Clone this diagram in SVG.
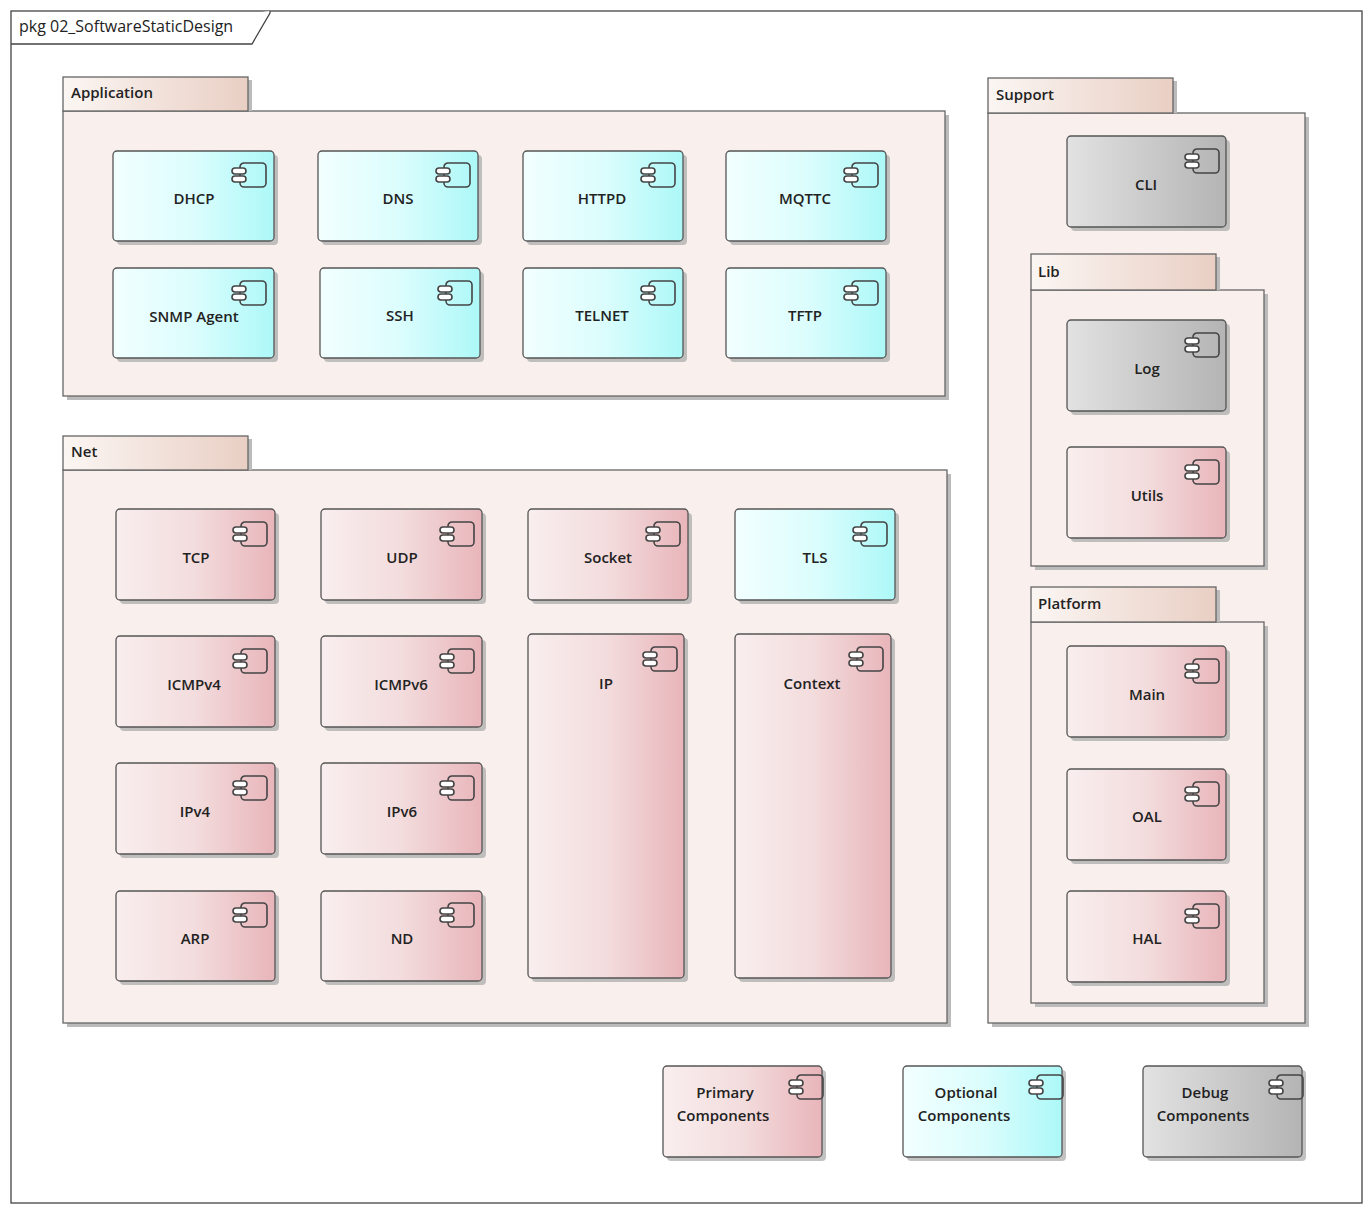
<svg xmlns="http://www.w3.org/2000/svg" xmlns:xlink="http://www.w3.org/1999/xlink" width="1372" height="1213" viewBox="0 0 1372 1213">
<defs>
<linearGradient id="gp" x1="0" x2="1" y1="0" y2="0"><stop offset="0" stop-color="#f9eeee"/><stop offset="0.5" stop-color="#f3dcdd"/><stop offset="1" stop-color="#e8b5ba"/></linearGradient>
<linearGradient id="gc" x1="0" x2="1" y1="0" y2="0"><stop offset="0" stop-color="#f2ffff"/><stop offset="0.5" stop-color="#dcfdfd"/><stop offset="1" stop-color="#adf8f8"/></linearGradient>
<linearGradient id="gg" x1="0" x2="1" y1="0" y2="0"><stop offset="0" stop-color="#e2e2e2"/><stop offset="1" stop-color="#b4b4b4"/></linearGradient>
<linearGradient id="gt" x1="0" x2="1" y1="0" y2="0"><stop offset="0" stop-color="#fbf6f3"/><stop offset="1" stop-color="#e9cfc4"/></linearGradient>
<g id="ic" fill="none" stroke="#444" stroke-width="1.6"><rect x="8" y="0" width="26" height="24" rx="4"/><rect x="0" y="5" width="14" height="6" rx="3" fill="#fff"/><rect x="0" y="13" width="14" height="6" rx="3" fill="#fff"/></g>
</defs>
<style>
text{font-family:"Open Sans","Noto Sans","Liberation Sans",sans-serif;font-size:15px;font-weight:600;fill:#222}
.t{text-anchor:middle}
.c{stroke:#555;stroke-width:1.3}
.sh{fill:#a8a8a8;opacity:.7}
.pb{fill:#f9f0ed;stroke:#666;stroke-width:1.3}
.pt{fill:url(#gt);stroke:#666;stroke-width:1.3}
.ps{fill:#bbb}
</style>
<rect width="1372" height="1213" fill="#fff"/>
<rect x="11" y="11" width="1351" height="1192" fill="none" stroke="#444" stroke-width="1.3"/>
<path d="M11 44 H252 L270 13 V11" fill="#fff" stroke="#444" stroke-width="1.3"/>
<text x="19" y="32" style="font-weight:400;font-size:16px">pkg 02_SoftwareStaticDesign</text>

<g id="pkg-application">
<rect x="67" y="115" width="882" height="285" class="ps"/><rect x="252" y="81" width="0" height="30" class="ps"/>
<rect x="63" y="111" width="882" height="285" class="pb"/>
<rect x="248" y="80" width="4" height="31" class="ps"/>
<rect x="63" y="77" width="185" height="34" class="pt"/>
<text x="71" y="98">Application</text>
</g>
<g id="pkg-net">
<rect x="67" y="474" width="884" height="553" class="ps"/>
<rect x="63" y="470" width="884" height="553" class="pb"/>
<rect x="248" y="439" width="4" height="31" class="ps"/>
<rect x="63" y="436" width="185" height="34" class="pt"/>
<text x="71" y="457">Net</text>
</g>
<g id="pkg-support">
<rect x="992" y="117" width="317" height="910" class="ps"/>
<rect x="988" y="113" width="317" height="910" class="pb"/>
<rect x="1173" y="81" width="4" height="32" class="ps"/>
<rect x="988" y="78" width="185" height="35" class="pt"/>
<text x="996" y="100">Support</text>
</g>
<g id="pkg-lib">
<rect x="1035" y="294" width="233" height="276" class="ps"/>
<rect x="1031" y="290" width="233" height="276" class="pb"/>
<rect x="1216" y="257" width="4" height="33" class="ps"/>
<rect x="1031" y="254" width="185" height="36" class="pt"/>
<text x="1038" y="277">Lib</text>
</g>
<g id="pkg-platform">
<rect x="1035" y="626" width="233" height="381" class="ps"/>
<rect x="1031" y="622" width="233" height="381" class="pb"/>
<rect x="1216" y="590" width="4" height="32" class="ps"/>
<rect x="1031" y="587" width="185" height="35" class="pt"/>
<text x="1038" y="609">Platform</text>
</g>

<g id="connectors"/>

<g id="DHCP"><rect x="117" y="155" width="161" height="90" rx="4" class="sh"/><rect x="113" y="151" width="161" height="90" rx="4" fill="url(#gc)" class="c"/><use href="#ic" x="232" y="163"/><text x="194" y="204" class="t">DHCP</text></g>
<g id="DNS"><rect x="322" y="155" width="160" height="90" rx="4" class="sh"/><rect x="318" y="151" width="160" height="90" rx="4" fill="url(#gc)" class="c"/><use href="#ic" x="436" y="163"/><text x="398" y="204" class="t">DNS</text></g>
<g id="HTTPD"><rect x="527" y="155" width="160" height="90" rx="4" class="sh"/><rect x="523" y="151" width="160" height="90" rx="4" fill="url(#gc)" class="c"/><use href="#ic" x="641" y="163"/><text x="602" y="204" class="t">HTTPD</text></g>
<g id="MQTTC"><rect x="730" y="155" width="160" height="90" rx="4" class="sh"/><rect x="726" y="151" width="160" height="90" rx="4" fill="url(#gc)" class="c"/><use href="#ic" x="844" y="163"/><text x="805" y="204" class="t">MQTTC</text></g>
<g id="SNMP"><rect x="117" y="272" width="161" height="90" rx="4" class="sh"/><rect x="113" y="268" width="161" height="90" rx="4" fill="url(#gc)" class="c"/><use href="#ic" x="232" y="281"/><text x="194" y="322" class="t">SNMP Agent</text></g>
<g id="SSH"><rect x="324" y="272" width="160" height="90" rx="4" class="sh"/><rect x="320" y="268" width="160" height="90" rx="4" fill="url(#gc)" class="c"/><use href="#ic" x="438" y="281"/><text x="400" y="321" class="t">SSH</text></g>
<g id="TELNET"><rect x="527" y="272" width="160" height="90" rx="4" class="sh"/><rect x="523" y="268" width="160" height="90" rx="4" fill="url(#gc)" class="c"/><use href="#ic" x="641" y="281"/><text x="602" y="321" class="t">TELNET</text></g>
<g id="TFTP"><rect x="730" y="272" width="160" height="90" rx="4" class="sh"/><rect x="726" y="268" width="160" height="90" rx="4" fill="url(#gc)" class="c"/><use href="#ic" x="844" y="281"/><text x="805" y="321" class="t">TFTP</text></g>

<g id="TCP"><rect x="120" y="513" width="159" height="91" rx="4" class="sh"/><rect x="116" y="509" width="159" height="91" rx="4" fill="url(#gp)" class="c"/><use href="#ic" x="233" y="522"/><text x="196" y="563" class="t">TCP</text></g>
<g id="UDP"><rect x="325" y="513" width="161" height="91" rx="4" class="sh"/><rect x="321" y="509" width="161" height="91" rx="4" fill="url(#gp)" class="c"/><use href="#ic" x="440" y="522"/><text x="402" y="563" class="t">UDP</text></g>
<g id="Socket"><rect x="532" y="513" width="160" height="91" rx="4" class="sh"/><rect x="528" y="509" width="160" height="91" rx="4" fill="url(#gp)" class="c"/><use href="#ic" x="646" y="522"/><text x="608" y="563" class="t">Socket</text></g>
<g id="TLS"><rect x="739" y="513" width="160" height="91" rx="4" class="sh"/><rect x="735" y="509" width="160" height="91" rx="4" fill="url(#gc)" class="c"/><use href="#ic" x="853" y="522"/><text x="815" y="563" class="t">TLS</text></g>
<g id="ICMPv4"><rect x="120" y="640" width="159" height="91" rx="4" class="sh"/><rect x="116" y="636" width="159" height="91" rx="4" fill="url(#gp)" class="c"/><use href="#ic" x="233" y="649"/><text x="194" y="690" class="t">ICMPv4</text></g>
<g id="ICMPv6"><rect x="325" y="640" width="161" height="91" rx="4" class="sh"/><rect x="321" y="636" width="161" height="91" rx="4" fill="url(#gp)" class="c"/><use href="#ic" x="440" y="649"/><text x="401" y="690" class="t">ICMPv6</text></g>
<g id="IPv4"><rect x="120" y="767" width="159" height="91" rx="4" class="sh"/><rect x="116" y="763" width="159" height="91" rx="4" fill="url(#gp)" class="c"/><use href="#ic" x="233" y="776"/><text x="195" y="817" class="t">IPv4</text></g>
<g id="IPv6"><rect x="325" y="767" width="161" height="91" rx="4" class="sh"/><rect x="321" y="763" width="161" height="91" rx="4" fill="url(#gp)" class="c"/><use href="#ic" x="440" y="776"/><text x="402" y="817" class="t">IPv6</text></g>
<g id="ARP"><rect x="120" y="895" width="159" height="90" rx="4" class="sh"/><rect x="116" y="891" width="159" height="90" rx="4" fill="url(#gp)" class="c"/><use href="#ic" x="233" y="903"/><text x="195" y="944" class="t">ARP</text></g>
<g id="ND"><rect x="325" y="895" width="161" height="90" rx="4" class="sh"/><rect x="321" y="891" width="161" height="90" rx="4" fill="url(#gp)" class="c"/><use href="#ic" x="440" y="903"/><text x="402" y="944" class="t">ND</text></g>
<g id="IP"><rect x="532" y="638" width="156" height="344" rx="4" class="sh"/><rect x="528" y="634" width="156" height="344" rx="4" fill="url(#gp)" class="c"/><use href="#ic" x="643" y="647"/><text x="606" y="689" class="t">IP</text></g>
<g id="Context"><rect x="739" y="638" width="156" height="344" rx="4" class="sh"/><rect x="735" y="634" width="156" height="344" rx="4" fill="url(#gp)" class="c"/><use href="#ic" x="849" y="647"/><text x="812" y="689" class="t">Context</text></g>

<g id="CLI"><rect x="1071" y="140" width="159" height="91" rx="4" class="sh"/><rect x="1067" y="136" width="159" height="91" rx="4" fill="url(#gg)" class="c"/><use href="#ic" x="1185" y="149"/><text x="1146" y="190" class="t">CLI</text></g>
<g id="Log"><rect x="1071" y="324" width="159" height="91" rx="4" class="sh"/><rect x="1067" y="320" width="159" height="91" rx="4" fill="url(#gg)" class="c"/><use href="#ic" x="1185" y="333"/><text x="1147" y="374" class="t">Log</text></g>
<g id="Utils"><rect x="1071" y="451" width="159" height="91" rx="4" class="sh"/><rect x="1067" y="447" width="159" height="91" rx="4" fill="url(#gp)" class="c"/><use href="#ic" x="1185" y="460"/><text x="1147" y="501" class="t">Utils</text></g>
<g id="Main"><rect x="1071" y="650" width="159" height="91" rx="4" class="sh"/><rect x="1067" y="646" width="159" height="91" rx="4" fill="url(#gp)" class="c"/><use href="#ic" x="1185" y="659"/><text x="1147" y="700" class="t">Main</text></g>
<g id="OAL"><rect x="1071" y="773" width="159" height="91" rx="4" class="sh"/><rect x="1067" y="769" width="159" height="91" rx="4" fill="url(#gp)" class="c"/><use href="#ic" x="1185" y="782"/><text x="1147" y="822" class="t">OAL</text></g>
<g id="HAL"><rect x="1071" y="895" width="159" height="91" rx="4" class="sh"/><rect x="1067" y="891" width="159" height="91" rx="4" fill="url(#gp)" class="c"/><use href="#ic" x="1185" y="904"/><text x="1147" y="944" class="t">HAL</text></g>

<g id="Primary"><rect x="667" y="1070" width="159" height="91" rx="4" class="sh"/><rect x="663" y="1066" width="159" height="91" rx="4" fill="url(#gp)" class="c"/><use href="#ic" x="789" y="1075"/><text x="725" y="1098" class="t">Primary</text><text x="723" y="1121" class="t">Components</text></g>
<g id="Optional"><rect x="907" y="1070" width="159" height="91" rx="4" class="sh"/><rect x="903" y="1066" width="159" height="91" rx="4" fill="url(#gc)" class="c"/><use href="#ic" x="1029" y="1075"/><text x="966" y="1098" class="t">Optional</text><text x="964" y="1121" class="t">Components</text></g>
<g id="Debug"><rect x="1147" y="1070" width="159" height="91" rx="4" class="sh"/><rect x="1143" y="1066" width="159" height="91" rx="4" fill="url(#gg)" class="c"/><use href="#ic" x="1269" y="1075"/><text x="1205" y="1098" class="t">Debug</text><text x="1203" y="1121" class="t">Components</text></g>
</svg>
